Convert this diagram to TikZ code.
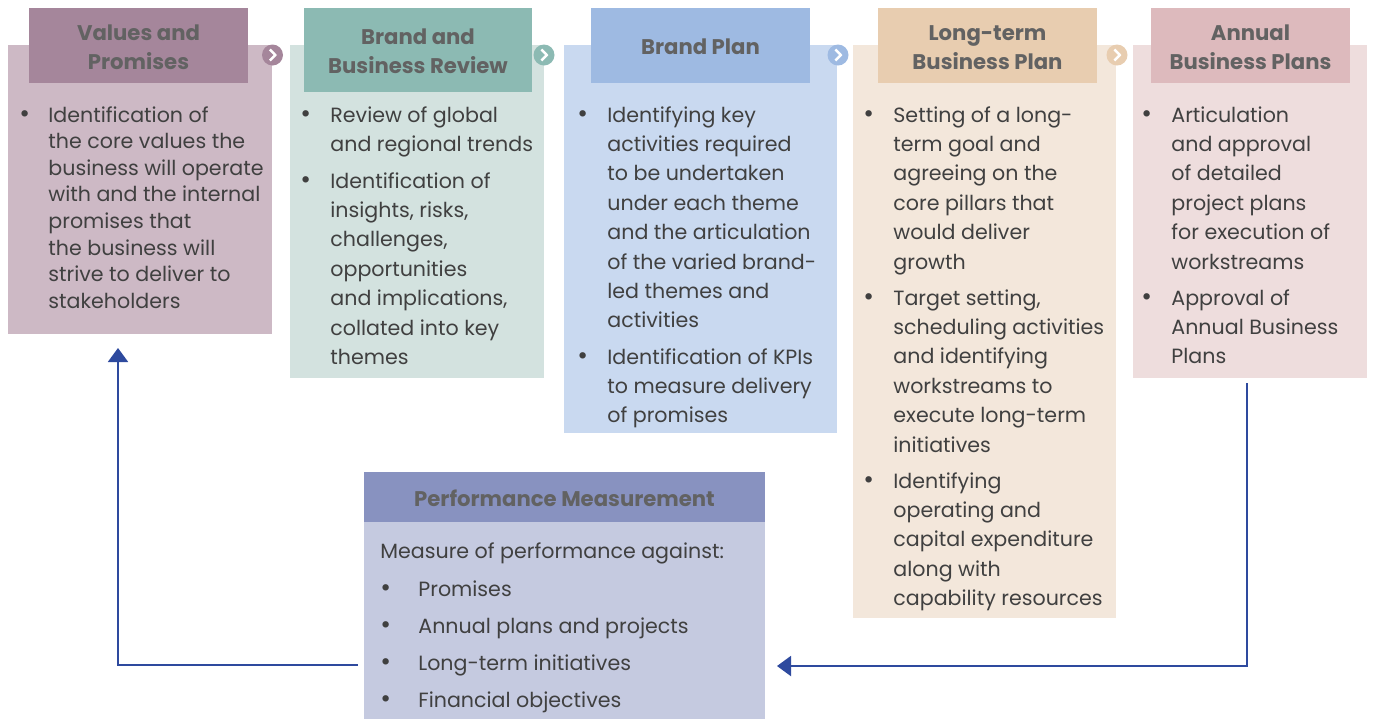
\documentclass[tikz,border=0pt]{standalone}
\usepackage{fontspec}
\setmainfont{Poppins}
\usetikzlibrary{fit,arrows.meta}
\definecolor{hA}{HTML}{A5869B}\definecolor{bA}{HTML}{CDB9C5}
\definecolor{hB}{HTML}{8CBAB3}\definecolor{bB}{HTML}{D3E2DF}
\definecolor{hC}{HTML}{9EBAE2}\definecolor{bC}{HTML}{C9D9F0}
\definecolor{hD}{HTML}{E8CDB0}\definecolor{bD}{HTML}{F3E7DB}
\definecolor{hE}{HTML}{DDBABD}\definecolor{bE}{HTML}{EEDDDD}
\definecolor{hP}{HTML}{8892C0}\definecolor{bP}{HTML}{C5CAE0}
\definecolor{txtc}{HTML}{404040}
\definecolor{hdrc}{HTML}{626262}
\definecolor{arrc}{HTML}{2E4A9E}
\newcommand\mylines[1]{\begin{tabular}[t]{@{}l@{}}#1\end{tabular}}
\tikzset{
  panel/.style={inner sep=0pt, draw=none},
  txt/.style={anchor=base west, inner sep=0pt, text=txtc, font=\fontsize{10.3}{14.7}\selectfont},
  tight/.style={font=\fontsize{10.3}{13.3}\selectfont},
  bul/.style={anchor=base west, inner sep=0pt, text=txtc, font=\fontsize{13}{14.7}\selectfont},
  hdr/.style={align=center, inner sep=0pt, text=hdrc, font=\bfseries\fontsize{10.6}{14.5}\selectfont},
  chevc/.style={circle, minimum size=10.5pt, inner sep=0pt},
  chevmark/.style={draw=white, line width=1.2pt},
  flow/.style={draw=arrc, line width=1pt, -{Triangle[width=10pt,length=7pt]}}
}
\begin{document}
\begin{tikzpicture}[x=0.5pt,y=-0.5pt]
\useasboundingbox (0,0) rectangle (1373,719);
% body panels
\node[panel, fill=bA, fit={(8,45) (272,334)}] (bodyA) {};
\node[panel, fill=bB, fit={(290,45) (544,378)}] (bodyB) {};
\node[panel, fill=bC, fit={(564,45) (837,433)}] (bodyC) {};
\node[panel, fill=bD, fit={(853,45) (1116,618)}] (bodyD) {};
\node[panel, fill=bE, fit={(1133,45) (1367,378)}] (bodyE) {};
% headers
\node[panel, fill=hA, fit={(29,8) (248,83)}] (headA) {};
\node[panel, fill=hB, fit={(304,8) (532,92)}] (headB) {};
\node[panel, fill=hC, fit={(591,8) (810,83)}] (headC) {};
\node[panel, fill=hD, fit={(878,8) (1097,83)}] (headD) {};
\node[panel, fill=hE, fit={(1151,8) (1350,83)}] (headE) {};
\node[hdr] (tA) at (138.5,47.5) {Values and\\Promises};
\node[hdr] (tB) at (418,51) {Brand and\\Business Review};
\node[hdr] (tC) at (700.5,47) {Brand Plan};
\node[hdr] (tD) at (987.5,47.5) {Long-term\\Business Plan};
\node[hdr] (tE) at (1250.5,47.5) {Annual\\Business Plans};
% chevron circles
\foreach \cx/\cc/\nm in {272.5/hA/cA, 544/hB/cB, 838/hC/cC, 1117/hD/cD}{
  \node[chevc, fill=\cc] (\nm) at (\cx,55) {};
  \draw[chevmark] ([shift={(-2.6,-5.5)}]\nm.center) -- ([shift={(2.8,0)}]\nm.center) -- ([shift={(-2.6,5.5)}]\nm.center);
}
% box A text
\node[bul] (aB1) at (19,122) {\textbullet};
\node[txt, tight] (aT1) at (48,122) {\mylines{Identification of\\the core values the\\business will operate\\with and the internal\\promises that\\the business will\\strive to deliver to\\stakeholders}};
% box B text
\node[bul] (bB1) at (300,122) {\textbullet};
\node[txt] (bT1) at (330,122) {\mylines{Review of global\\and regional trends}};
\node[bul] (bB2) at (300,188) {\textbullet};
\node[txt] (bT2) at (330,188) {\mylines{Identification of\\insights, risks,\\challenges,\\opportunities\\and implications,\\collated into key\\themes}};
% box C text
\node[bul] (cB1) at (577,122) {\textbullet};
\node[txt] (cT1) at (607,122) {\mylines{Identifying key\\activities required\\to be undertaken\\under each theme\\and the articulation\\of the varied brand-\\led themes and\\activities}};
\node[bul] (cB2) at (577,364) {\textbullet};
\node[txt] (cT2) at (607,364) {\mylines{Identification of KPIs\\to measure delivery\\of promises}};
% box D text
\node[bul] (dB1) at (863,122) {\textbullet};
\node[txt] (dT1) at (893,122) {\mylines{Setting of a long-\\term goal and\\agreeing on the\\core pillars that\\would deliver\\growth}};
\node[bul] (dB2) at (863,305) {\textbullet};
\node[txt] (dT2) at (893,305) {\mylines{Target setting,\\scheduling activities\\and identifying\\workstreams to\\execute long-term\\initiatives}};
\node[bul] (dB3) at (863,488) {\textbullet};
\node[txt] (dT3) at (893,488) {\mylines{Identifying\\operating and\\capital expenditure\\along with\\capability resources}};
% box E text
\node[bul] (eB1) at (1141,122) {\textbullet};
\node[txt] (eT1) at (1171,122) {\mylines{Articulation\\and approval\\of detailed\\project plans\\for execution of\\workstreams}};
\node[bul] (eB2) at (1141,305) {\textbullet};
\node[txt] (eT2) at (1171,305) {\mylines{Approval of\\Annual Business\\Plans}};
% performance measurement
\node[panel, fill=bP, fit={(364,522) (765,719)}] (pmb) {};
\node[panel, fill=hP, fit={(364,472) (765,522)}] (pmh) {};
\node[hdr] (pmt) at (564.5,498) {Performance Measurement};
\node[txt] (pm0) at (380,558) {Measure of performance against:};
\foreach \yy/\ww/\nm in {596/Promises/p1, 633/Annual plans and projects/p2, 670/Long-term initiatives/p3, 707/Financial objectives/p4}{
  \node[bul] (\nm b) at (380,\yy) {\textbullet};
  \node[txt] (\nm t) at (418,\yy) {\ww};
}
% connectors
\coordinate (ls) at (358,665);
\coordinate (le) at (118,348);
\draw[flow] (ls) -| (le);
\coordinate (rs) at (1247,383);
\coordinate (re) at (777,666);
\draw[flow] (rs) |- (re);
\end{tikzpicture}
\end{document}
